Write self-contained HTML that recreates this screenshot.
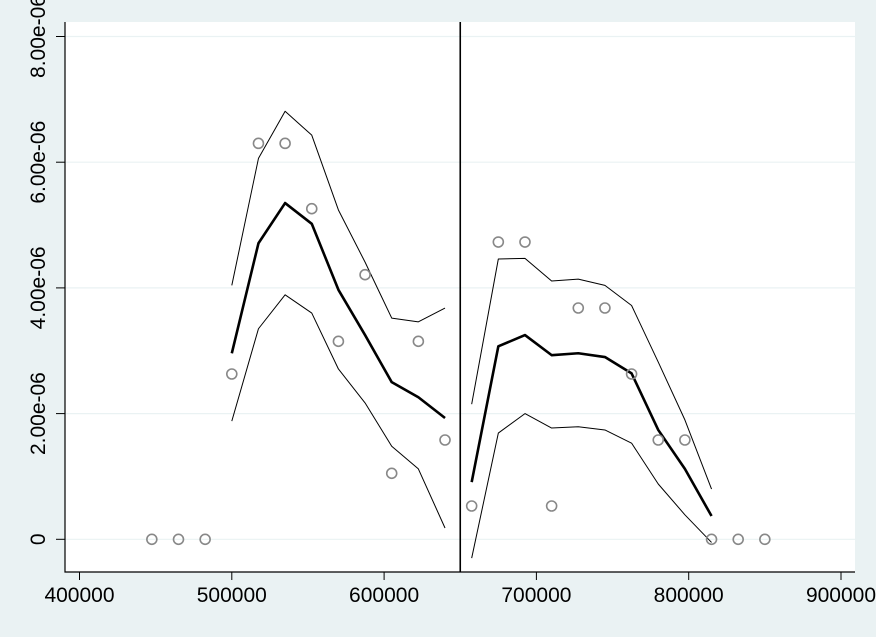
<!DOCTYPE html>
<html><head><meta charset="utf-8"><style>
body{margin:0;background:#eaf2f3;}
svg{display:block;font-family:"Liberation Sans",sans-serif;}
</style></head><body>
<svg id="chart" width="876" height="637">
<rect x="0" y="0" width="876" height="637" fill="#eaf2f3"/>
<rect x="65" y="22" width="790" height="550" fill="#fff"/>
<g id="grid"></g><g id="marks"></g><g id="axes"></g>
</svg>
<script>
const xTicks=[400000,500000,600000,700000,800000,900000];
const yTicks=[0,2e-6,4e-6,6e-6,8e-6];
const yTickLabels=["0","2.00e-06","4.00e-06","6.00e-06","8.00e-06"];
const binX=[447500,465000,482500,500000,517500,535000,552500,570000,587500,605000,622500,640000,657500,675000,692500,710000,727500,745000,762500,780000,797500,815000,832500,850000];
const binY=[0,0,0,2.63,6.3,6.3,5.26,3.15,4.21,1.05,3.15,1.58,0.53,4.73,4.73,0.53,3.68,3.68,2.63,1.58,1.58,0,0,0];
const leftX=[500000,517500,535000,552500,570000,587500,605000,622500,640000];
const leftFit=[2.96,4.71,5.35,5.02,3.97,3.25,2.50,2.26,1.93];
const leftUp=[4.04,6.06,6.81,6.43,5.24,4.41,3.52,3.46,3.68];
const leftLo=[1.88,3.35,3.89,3.60,2.71,2.17,1.48,1.12,0.18];
const rightX=[657500,675000,692500,710000,727500,745000,762500,780000,797500,815000];
const rightFit=[0.91,3.07,3.25,2.93,2.96,2.90,2.64,1.74,1.12,0.37];
const rightUp=[2.15,4.46,4.47,4.11,4.14,4.04,3.72,2.82,1.90,0.80];
const rightLo=[-0.30,1.69,2.00,1.77,1.79,1.74,1.53,0.88,0.39,-0.05];
const cutoff=650000;
const sx=v=>79.5+(v-400000)/100000*152.3;
const sy=v=>539.3-v/8e-6*502.8;
const NS="http://www.w3.org/2000/svg";
function mk(tag,attrs,parent){const e=document.createElementNS(NS,tag);for(const k in attrs)e.setAttribute(k,attrs[k]);document.getElementById(parent).appendChild(e);return e;}
yTicks.forEach((t,i)=>{
 const g=mk('line',{x1:65,x2:855,y1:sy(t),y2:sy(t),stroke:'#eaf2f3','stroke-width':1.2},'grid');
 
 
 const tk=mk('line',{x1:56,x2:65,y1:sy(t),y2:sy(t),stroke:'#000'},'axes');
 
 
 const y=sy(t);
 const tx=mk('text',{x:0,y:0,transform:`translate(45,${y}) rotate(-90)`,'text-anchor':'middle','font-size':'21px'},'axes');
 tx.textContent=yTickLabels[i];
 
 
});
xTicks.forEach(t=>{
 const tk=mk('line',{x1:sx(t),x2:sx(t),y1:572,y2:580,stroke:'#000'},'axes');
 
 
 const tx=mk('text',{x:sx(t),y:602,'text-anchor':'middle','font-size':'21px'},'axes');
 tx.textContent=String(t);
 
 
});
const ax=mk('path',{d:'M65,22V572H855',fill:'none',stroke:'#000','stroke-width':1.2},'axes');


function line(xs,ys,w,name){
 const p=mk('polyline',{points:xs.map((x,i)=>sx(x)+','+sy(ys[i]*1e-6)).join(' '),fill:'none',stroke:'#000','stroke-width':w,'stroke-linejoin':'round'},'marks');
 
 
}
line(leftX,leftUp,1,'left-ci-upper');line(leftX,leftLo,1,'left-ci-lower');line(leftX,leftFit,2.6,'left-fit');
line(rightX,rightUp,1,'right-ci-upper');line(rightX,rightLo,1,'right-ci-lower');line(rightX,rightFit,2.6,'right-fit');
binX.forEach((x,i)=>{
 const c=mk('circle',{cx:sx(x),cy:sy(binY[i]*1e-6),r:5,fill:'none',stroke:'#888','stroke-width':1.6},'marks');
 
 
});
const cl=mk('line',{x1:sx(cutoff),x2:sx(cutoff),y1:22,y2:572,stroke:'#000','stroke-width':1.6},'marks');


</script>
</body></html>
